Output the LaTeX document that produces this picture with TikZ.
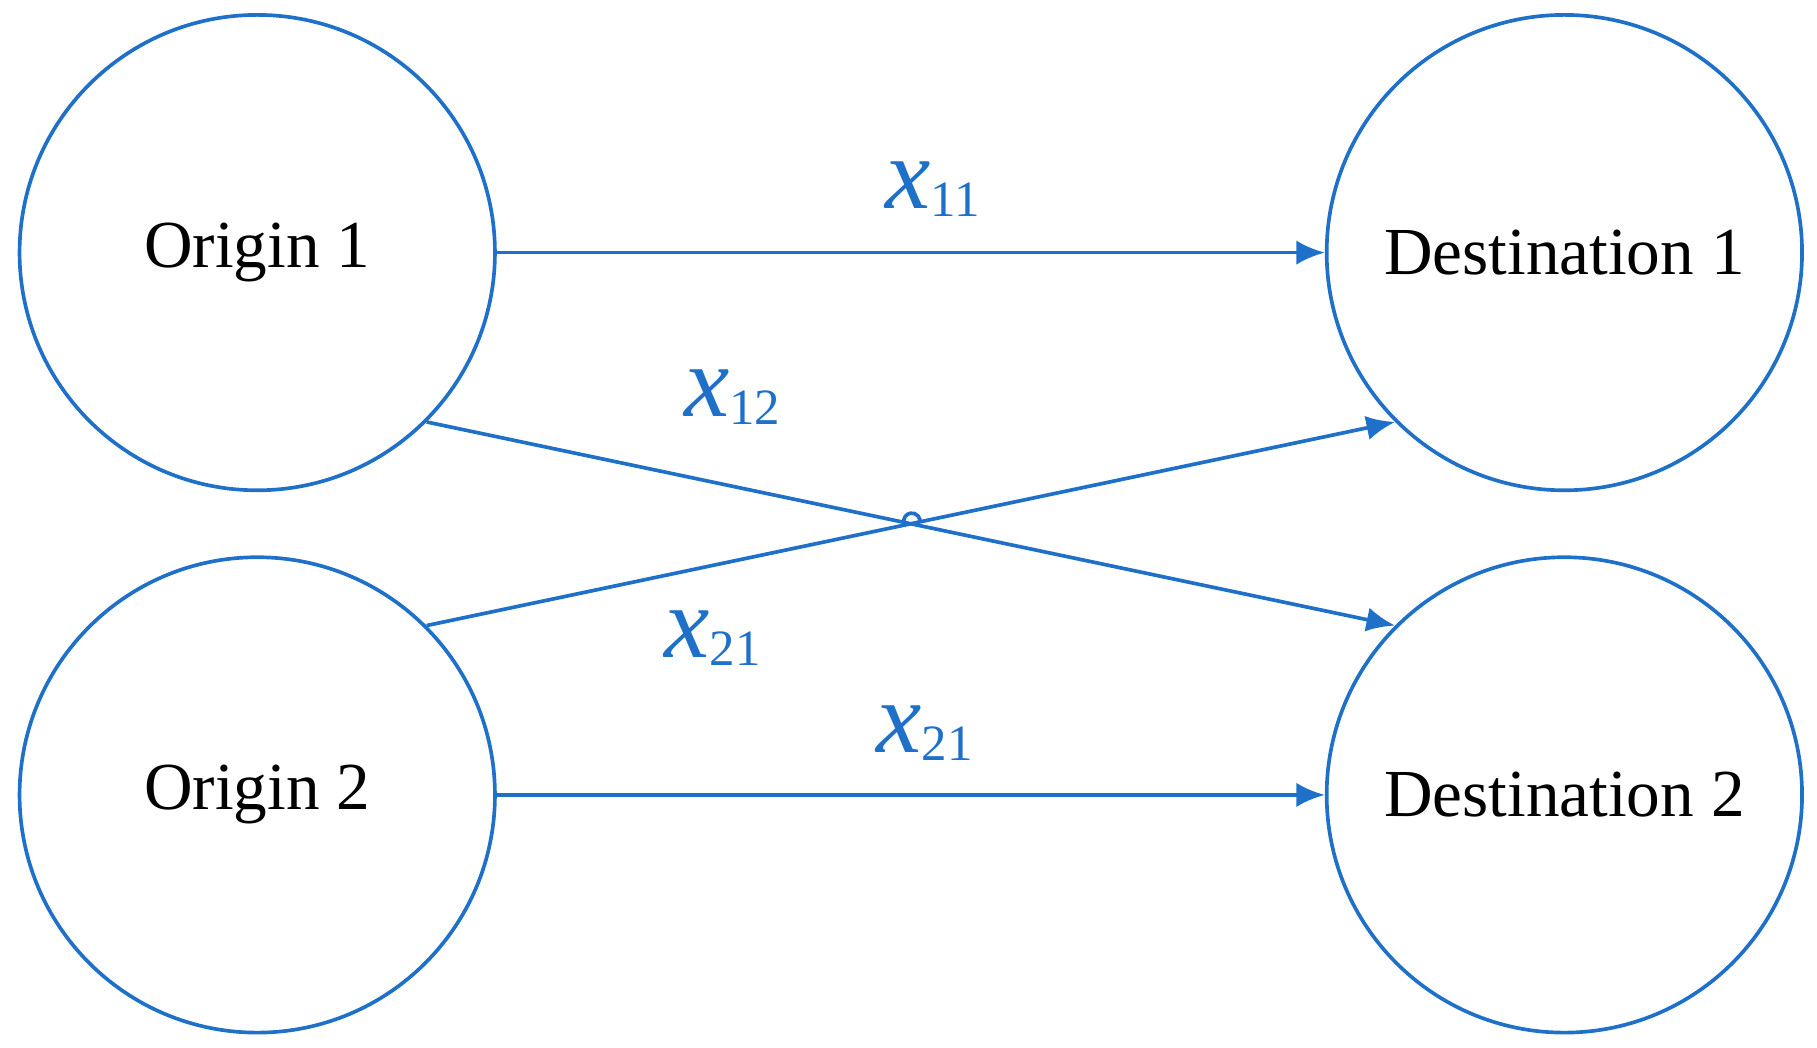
\documentclass[tikz,border=0pt]{standalone}
\usepackage{fontspec}
\setmainfont{Liberation Serif}
\usetikzlibrary{arrows.meta}
\definecolor{bl}{RGB}{31,112,200}
\begin{document}
\begin{tikzpicture}[x=0.01cm,y=-0.01cm,
  circ/.style={circle,draw=bl,line width=0.9pt,minimum size=4.1cm,inner sep=0pt,font=\fontsize{16.5}{20}\selectfont},
  arr/.style={draw=bl,line width=0.9pt,-{Latex[length=7pt,width=6pt]}},
  lab/.style={text=bl,inner sep=0pt,font=\fontsize{25}{28}\selectfont}]
\newcommand{\xs}[1]{\textit{x}{\fontsize{12.5}{14}\selectfont\raisebox{-0.35ex}{#1}}}
\useasboundingbox (0,0) rectangle (1568,904);
\node[circ] (o1) at (222,218) {Origin 1};
\node[circ] (o2) at (222,686) {Origin 2};
\node[circ] (d1) at (1350,218) {Destination 1};
\node[circ] (d2) at (1350,686) {Destination 2};
\draw[arr] (o1) -- (d1);
\draw[arr] (o2) -- (d2);
\draw[arr] (o1.-45) -- (d2.135);
\draw[arr] (o2.45) -- (d1.-135);
\draw[bl,line width=0.9pt] (780,451) arc[start angle=170,end angle=370,radius=7];
\node[lab] (l11) at (805,163) {\xs{11}};
\node[lab] (l12) at (632,343) {\xs{12}};
\node[lab] (l21a) at (615,551) {\xs{21}};
\node[lab] (l21b) at (798,633) {\xs{21}};
\end{tikzpicture}
\end{document}
